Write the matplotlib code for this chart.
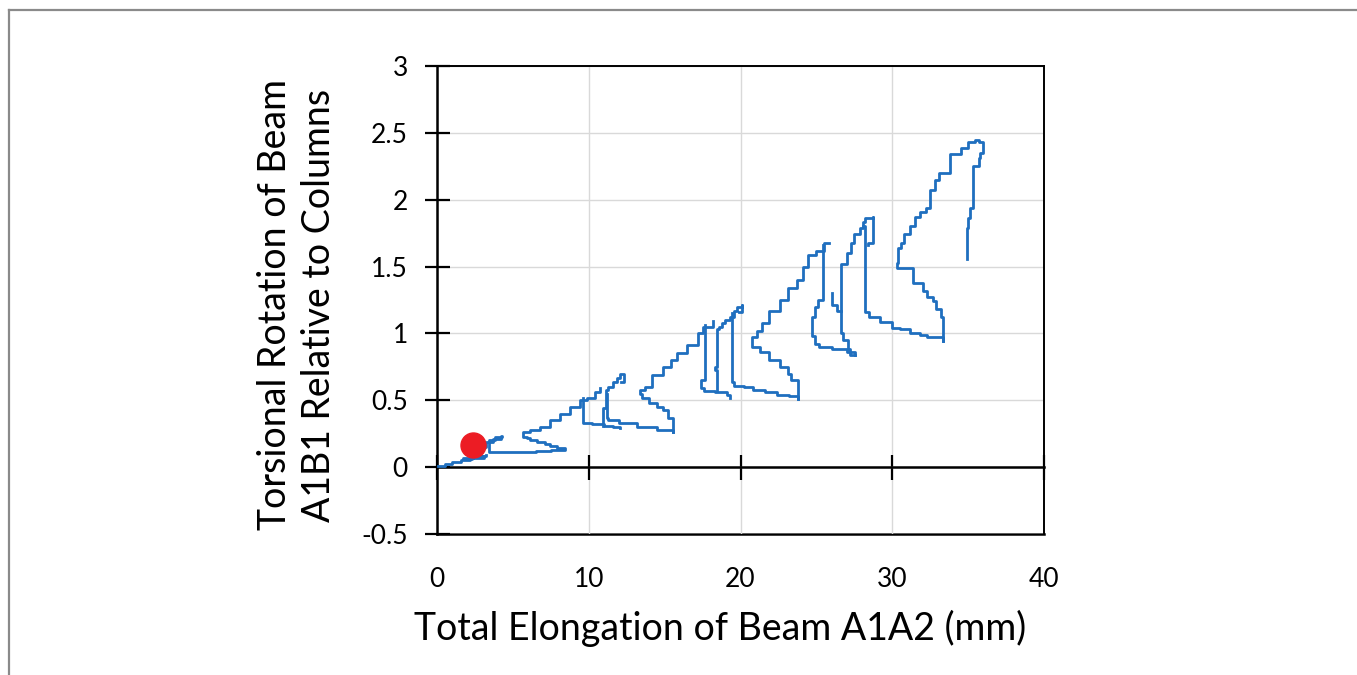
import matplotlib

matplotlib.use("Agg")
import matplotlib.pyplot as plt
from matplotlib.lines import Line2D

plt.rcParams["font.family"] = ["Lato", "DejaVu Sans"]
plt.rcParams["axes.unicode_minus"] = False

# traced path of the torsion / elongation record, stroke by stroke (mm, rotation)
origin_x = [0.05, 0.5, 1.0, 1.6, 2.2, 3.1, 2.4, 1.7, 2.3, 3.2]
origin_y = [0.005, 0.02, 0.035, 0.05, 0.065, 0.085, 0.07, 0.06, 0.08, 0.09]

loop1_x = [2.6, 3.2, 3.7, 4.2, 4.3, 3.8, 3.4, 3.4, 4.5, 5.5, 6.5, 7.5, 8.45,
           8.43, 7.9, 7.45, 7.1, 6.6, 6.1, 5.9, 5.67, 6.1, 6.8, 7.45, 8.1,
           8.76, 9.4, 9.9, 10.4, 10.74]
loop1_y = [0.15, 0.19, 0.21, 0.235, 0.225, 0.2, 0.18, 0.115, 0.115, 0.115, 0.12,
           0.125, 0.13, 0.14, 0.157, 0.172, 0.187, 0.20, 0.217, 0.225, 0.26,
           0.28, 0.30, 0.35, 0.40, 0.45, 0.50, 0.52, 0.56, 0.59]

drop1_x = [9.6, 9.6, 10.2, 11.0, 11.6, 12.06]
drop1_y = [0.52, 0.33, 0.32, 0.31, 0.30, 0.29]

tooth1_x = [10.96, 10.96, 11.14, 11.14, 11.3, 11.6, 11.85, 12.06, 12.3, 12.3, 12.1]
tooth1_y = [0.31, 0.44, 0.44, 0.58, 0.60, 0.64, 0.67, 0.70, 0.70, 0.64, 0.64]

drop1b_x = [11.2, 11.2, 11.3, 12.0, 13.2, 14.5, 15.55]
drop1b_y = [0.55, 0.37, 0.35, 0.33, 0.30, 0.28, 0.26]

loop2_x = [15.55, 15.55, 15.2, 14.9, 14.5, 14.0, 13.5, 13.4, 13.7, 14.2, 14.9,
           15.4, 15.8, 16.5, 17.2, 17.5, 18.2]
loop2_y = [0.26, 0.37, 0.43, 0.45, 0.48, 0.52, 0.55, 0.58, 0.60, 0.69, 0.75,
           0.80, 0.85, 0.91, 1.00, 1.05, 1.09]

drop2_x = [17.66, 17.66, 17.4, 17.4, 17.6, 18.3, 19.1, 19.3]
drop2_y = [1.06, 0.65, 0.64, 0.59, 0.57, 0.56, 0.54, 0.52]

tooth2_x = [18.45, 18.45, 18.35, 18.45, 18.45, 18.6, 18.8, 19.0, 19.3, 19.6,
            19.8, 20.1, 20.1, 19.9]
tooth2_y = [0.57, 0.73, 0.75, 0.80, 1.03, 1.05, 1.08, 1.10, 1.12, 1.17, 1.20,
            1.21, 1.16, 1.16]

drop2b_x = [19.44, 19.44, 19.6, 20.2, 20.8, 21.6, 22.4, 23.2, 23.8]
drop2b_y = [1.15, 0.64, 0.61, 0.60, 0.58, 0.56, 0.54, 0.53, 0.51]

loop3_x = [23.8, 23.8, 23.3, 23.1, 22.6, 21.9, 21.3, 20.76, 21.1, 21.4, 21.9,
           22.6, 23.1, 23.7, 24.1, 24.45, 25.0, 25.5, 25.8]
loop3_y = [0.51, 0.65, 0.70, 0.75, 0.80, 0.86, 0.90, 0.97, 1.02, 1.08, 1.17,
           1.25, 1.34, 1.40, 1.50, 1.59, 1.62, 1.68, 1.68]

drop3_x = [25.44, 25.44, 25.1, 24.9, 24.7, 24.7, 24.9, 25.2, 26.0, 27.0, 27.55]
drop3_y = [1.66, 1.25, 1.20, 1.12, 1.05, 0.98, 0.92, 0.90, 0.88, 0.86, 0.84]

tooth3_x = [27.55, 27.2, 27.1, 26.75, 26.6, 26.6, 27.0, 27.3, 27.5, 27.9, 28.1,
            28.2, 28.7, 28.7, 28.4]
tooth3_y = [0.84, 0.88, 0.95, 1.00, 1.10, 1.52, 1.60, 1.68, 1.74, 1.79, 1.83,
            1.86, 1.87, 1.68, 1.66]

spur3_x = [26.0, 26.0, 26.35, 26.6]
spur3_y = [1.30, 1.21, 1.17, 1.17]

drop3b_x = [28.1, 28.2, 28.2, 28.5, 29.2, 30.0, 30.5, 31.2, 31.8, 32.3, 33.35]
drop3b_y = [1.80, 1.70, 1.16, 1.12, 1.085, 1.04, 1.03, 1.00, 0.99, 0.97, 0.94]

loop4_x = [33.35, 33.35, 33.2, 32.9, 32.7, 32.3, 32.0, 31.5, 31.4, 30.8, 30.3,
           30.4, 30.6, 30.8, 31.2, 31.5, 31.8, 32.2, 32.5, 32.8, 33.1, 33.8,
           34.5, 35.0, 35.45, 35.7, 36.0, 36.0, 35.8, 35.7, 35.3, 35.3, 35.1,
           35.0, 34.9, 34.9]
loop4_y = [0.94, 1.12, 1.18, 1.24, 1.27, 1.32, 1.38, 1.38, 1.49, 1.49, 1.53,
           1.64, 1.68, 1.74, 1.80, 1.87, 1.91, 1.94, 2.07, 2.15, 2.20, 2.34,
           2.39, 2.43, 2.45, 2.43, 2.41, 2.35, 2.31, 2.25, 2.13, 1.94, 1.86,
           1.79, 1.77, 1.56]

strokes = [(origin_x, origin_y), (loop1_x, loop1_y), (drop1_x, drop1_y),
           (tooth1_x, tooth1_y), (drop1b_x, drop1b_y), (loop2_x, loop2_y),
           (drop2_x, drop2_y), (tooth2_x, tooth2_y), (drop2b_x, drop2b_y),
           (loop3_x, loop3_y), (drop3_x, drop3_y), (tooth3_x, tooth3_y),
           (spur3_x, spur3_y), (drop3b_x, drop3b_y), (loop4_x, loop4_y)]

marker_x = [2.35]
marker_y = [0.165]

x_ticks = [0, 10, 20, 30, 40]
y_ticks = [-0.5, 0, 0.5, 1, 1.5, 2, 2.5, 3]

BLUE = "#1f6fbf"

fig = plt.figure(figsize=(13.57, 6.75), dpi=100)
ax = fig.add_axes([437 / 1357, 1 - 534 / 675, (1044 - 437) / 1357, (534 - 66) / 675])

# logger output is quantised, so the record reads as a staircase
for xs, ys in strokes:
    ax.plot(xs, ys, color=BLUE, lw=2.0, drawstyle="steps-post", zorder=3)
ax.plot(marker_x, marker_y, "o", color="#ec1c24", ms=18, zorder=4)

ax.set_xlim(0, 40)
ax.set_ylim(-0.5, 3)
ax.set_xticks(x_ticks)
ax.set_yticks(y_ticks)
ax.set_yticklabels([f"{v:g}" for v in y_ticks])
ax.grid(True, color="#d9d9d9", lw=1.0, zorder=0)
ax.set_axisbelow(True)

for side in ["left", "top", "right"]:
    ax.spines[side].set_color("black")
    ax.spines[side].set_linewidth(1.4)
ax.spines["left"].set_linewidth(1.8)
ax.spines["bottom"].set_position(("data", 0))
ax.spines["bottom"].set_linewidth(1.8)

ax.tick_params(axis="x", direction="inout", length=18, width=1.6,
               labelbottom=False)
ax.tick_params(axis="y", direction="inout", length=18, width=1.6,
               labelsize=19, pad=12)

sec = ax.secondary_xaxis(0.0)
sec.set_xticks(x_ticks)
sec.set_xticklabels([f"{v:g}" for v in x_ticks])
sec.tick_params(length=0, labelsize=19, pad=24)
sec.spines["bottom"].set_linewidth(1.8)

fig.text(720 / 1357, 1 - 628 / 675, "Total Elongation of Beam A1A2 (mm)",
         ha="center", va="center", fontsize=27)
fig.text(297 / 1357, 1 - 305 / 675,
         "Torsional Rotation of Beam\nA1B1 Relative to Columns",
         ha="center", va="center", rotation=90, fontsize=27,
         multialignment="center", linespacing=1.25)

# thin grey frame on top and left edge of the picture
fig.add_artist(Line2D([9 / 1357, 1], [1 - 10 / 675] * 2, transform=fig.transFigure,
                      color="#8a8a8a", lw=1.6))
fig.add_artist(Line2D([9 / 1357] * 2, [0, 1 - 10 / 675], transform=fig.transFigure,
                      color="#8a8a8a", lw=1.6))

fig.savefig("out.png", dpi=100)
